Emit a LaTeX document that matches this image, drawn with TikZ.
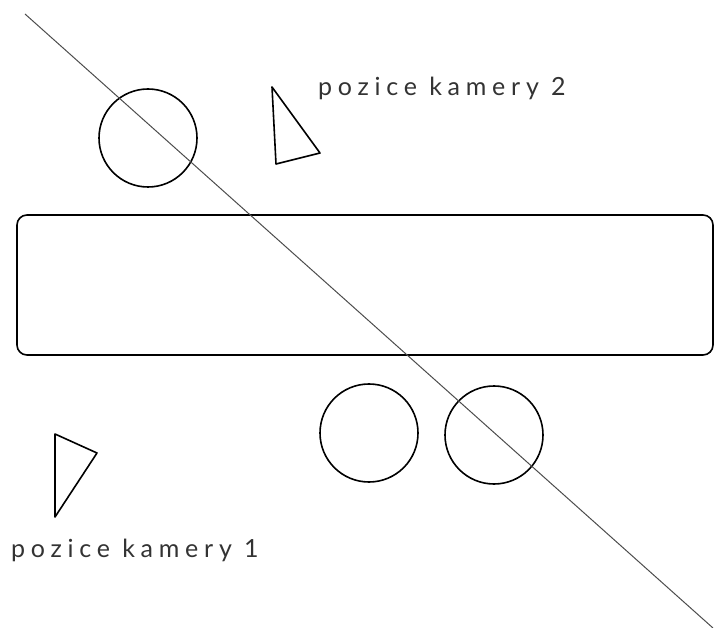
\documentclass[tikz,border=0pt]{standalone}
\usepackage{fontspec}
\setmainfont{Lato}[LetterSpace=23]
\begin{document}
\begin{tikzpicture}[x=1pt,y=-1pt,
  outl/.style={draw=black,line width=1.6pt},
  wheel/.style={outl,circle,minimum size=98pt,inner sep=0pt},
  captxt/.style={anchor=base west,inner sep=0pt,text=black!80,font=\fontsize{25}{28}\selectfont}]
\useasboundingbox (0,0) rectangle (715,628);
\node[outl,rounded corners=10pt,minimum width=696pt,minimum height=140pt,inner sep=0pt] (body) at (365,285) {};
\node[wheel] (w1) at (148,138) {};
\node[wheel] (w2) at (369,433) {};
\node[wheel] (w3) at (494,435) {};
\coordinate (c2a) at (272,87);
\coordinate (c2b) at (320,153);
\coordinate (c2c) at (276,164);
\draw[outl,line join=round] (c2a) -- (c2b) -- (c2c) -- cycle;
\coordinate (c1a) at (55,434);
\coordinate (c1b) at (97,453);
\coordinate (c1c) at (55,517);
\draw[outl,line join=round] (c1a) -- (c1b) -- (c1c) -- cycle;
\coordinate (la) at (25,14);
\coordinate (lb) at (713,628);
\draw[black!70,line width=1pt] (la) -- (lb);
\node[captxt] (t2) at (318,96) {pozice kamery 2};
\node[captxt] (t1) at (11,557) {pozice kamery 1};
\end{tikzpicture}
\end{document}
